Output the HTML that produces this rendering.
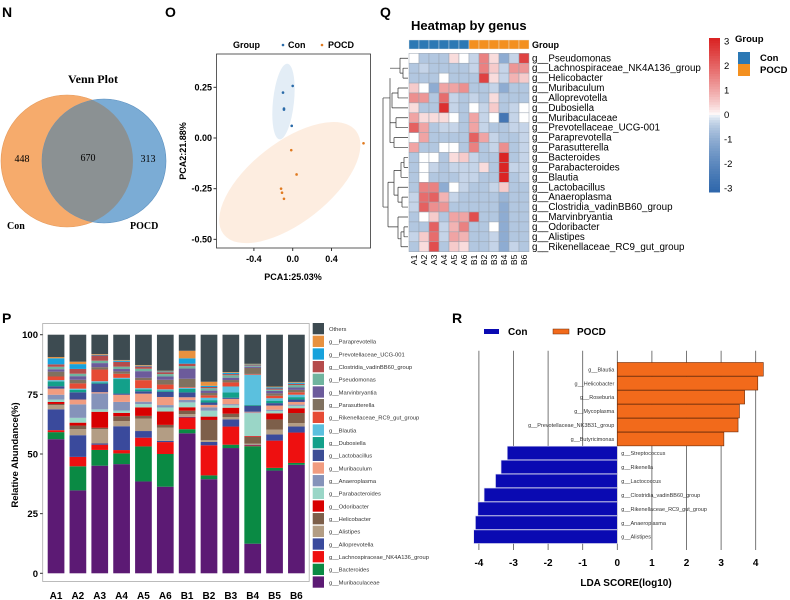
<!DOCTYPE html>
<html><head><meta charset="utf-8"><style>
body{margin:0;background:#fff;}
svg{display:block;font-family:"Liberation Sans",sans-serif;}
</style></head><body>
<svg id="fig" width="790" height="600" viewBox="0 0 790 600" xmlns="http://www.w3.org/2000/svg">
<defs><clipPath id="conclip"><circle cx="67" cy="161" r="66"/></clipPath></defs>
<g font-weight="bold" font-size="14">
<text x="2" y="17">N</text><text x="165" y="17">O</text><text x="380" y="17">Q</text><text x="2" y="323">P</text><text x="452" y="323">R</text>
</g>
<!-- Venn -->
<g font-family="Liberation Serif,serif">
<circle cx="67" cy="161" r="66" fill="#f6ab6c" stroke="#e49a5c" stroke-width="0.6"/>
<circle cx="104" cy="161" r="62" fill="#7bacd5" stroke="#5a8fbf" stroke-width="0.6"/>
<circle cx="104" cy="161" r="62" fill="#8b9193" clip-path="url(#conclip)"/>
<text x="93" y="83" text-anchor="middle" font-weight="bold" font-size="12">Venn Plot</text>
<text x="22" y="162" text-anchor="middle" font-size="10">448</text>
<text x="88" y="161" text-anchor="middle" font-size="10">670</text>
<text x="148" y="162" text-anchor="middle" font-size="10">313</text>
<text x="7" y="229" font-size="10" font-weight="bold">Con</text>
<text x="130" y="229" font-size="10" font-weight="bold">POCD</text>
</g>
<g id="pca"></g>
<g id="heat"></g>
<g id="bars"></g>
<g id="lda"></g>
</svg>
<script>
const NS="http://www.w3.org/2000/svg";
function mk(p,t,a,txt){const e=document.createElementNS(NS,t);for(const k in a)e.setAttribute(k,a[k]);if(txt!==undefined)e.textContent=txt;p.appendChild(e);return e;}

// ---------- PCA data ----------
const pcaConX=[0.00,-0.10,-0.09,-0.09,-0.01];
const pcaConY=[0.257,0.224,0.145,0.14,0.06];
const pcaPocdX=[0.73,-0.015,0.04,-0.12,-0.11,-0.09];
const pcaPocdY=[-0.026,-0.06,-0.18,-0.25,-0.27,-0.30];
const pcaXTicks=[-0.4,0.0,0.4];
const pcaYTicks=[0.25,0.00,-0.25,-0.50];

// ---------- Heatmap data ----------
const heatGenera=["Pseudomonas","Lachnospiraceae_NK4A136_group","Helicobacter","Muribaculum","Alloprevotella","Dubosiella","Muribaculaceae","Prevotellaceae_UCG-001","Paraprevotella","Parasutterella","Bacteroides","Parabacteroides","Blautia","Lactobacillus","Anaeroplasma","Clostridia_vadinBB60_group","Marvinbryantia","Odoribacter","Alistipes","Rikenellaceae_RC9_gut_group"];
const heatSamples=["A1","A2","A3","A4","A5","A6","B1","B2","B3","B4","B5","B6"];
const heatValues=[
[0,-0.5,-0.5,-0.5,0.3,0,-0.3,1.5,0.3,-1,-0.3,2.5],
[-0.5,-0.3,-0.5,-0.5,-0.5,-0.5,-0.3,1.5,0.5,-0.3,1.2,1.2],
[-0.5,-0.5,-0.5,0,-0.5,-0.5,-0.5,2.5,0.3,-0.3,0.8,0.5],
[0.5,0,-1,1,1,1.3,-0.5,-0.5,-0.3,-1,-0.5,-0.5],
[1.3,1.2,-0.5,1.8,-0.3,-0.5,-0.3,-0.5,0.3,-0.5,-0.5,-0.5],
[0.3,-0.5,-0.5,2.8,-0.3,-0.5,0,-0.3,0.5,-0.5,-0.3,0],
[1,0.3,0.3,0.3,0,-0.5,1,-0.3,0,-2.5,-0.3,0],
[2,1,-0.5,-0.3,-0.3,-0.5,1,-0.3,-0.5,-0.5,-0.3,-0.3],
[0,1,-0.5,-0.5,-0.5,-0.5,2,1,-0.3,-0.5,-0.5,-0.3],
[1,-0.5,-0.5,0,0,-0.5,1.5,-0.5,-0.3,1.3,-0.5,-0.3],
[-0.5,0,0,-0.5,0.3,0.5,-0.3,-0.5,-0.5,3,-0.5,-0.3],
[-0.5,0,-0.3,-0.5,-0.3,-0.3,-0.3,0.3,-0.5,3,-0.3,-0.3],
[-0.5,0,-0.5,-0.5,-0.5,-0.3,-0.3,-0.5,-0.5,3,-0.5,-0.3],
[-0.5,1.5,1.5,-1,0,-0.3,-0.5,-0.5,-0.3,0.5,-0.5,-0.5],
[-0.3,1.8,2,0.8,-0.3,-0.5,-0.5,-0.5,-0.5,-0.8,-0.5,-0.5],
[-0.3,2,1.3,1.2,-0.5,-0.5,-0.5,-0.5,-0.5,-1,-0.5,-0.5],
[-0.5,0,0.5,-0.5,1,1,2.3,-0.5,-0.5,-1,-0.5,-0.5],
[-0.5,-0.5,2,-0.3,0.8,1.5,-0.5,-0.5,0,-1,-0.5,-0.5],
[-0.3,0.5,1.8,-0.3,1,0.8,-0.5,-0.5,-0.3,-1,-0.5,-0.5],
[-0.5,0.3,2.3,-0.5,0.5,0.3,-0.5,-0.5,-0.3,-1,-0.3,-0.5]];
const heatScaleTicks=[3,2,1,0,-1,-2,-3];

// ---------- Stacked bar data ----------
const barSamples=["A1","A2","A3","A4","A5","A6","B1","B2","B3","B4","B5","B6"];
const barTaxa=["g__Muribaculaceae","g__Bacteroides","g__Lachnospiraceae_NK4A136_group","g__Alloprevotella","g__Alistipes","g__Helicobacter","g__Odoribacter","g__Parabacteroides","g__Anaeroplasma","g__Muribaculum","g__Lactobacillus","g__Dubosiella","g__Blautia","g__Rikenellaceae_RC9_gut_group","g__Parasutterella","g__Marvinbryantia","g__Pseudomonas","g__Clostridia_vadinBB60_group","g__Prevotellaceae_UCG-001","g__Paraprevotella","Others"];
const barColors=["#5c1a74","#0a8a44","#ee1010","#3a4a9c","#b39d84","#7d5f4a","#d80000","#9ad6c7","#8593ba","#f19c80","#3c4d95","#13a08a","#5bc0de","#e64b35","#80715f","#6c5b9b","#70b49f","#b54c4c","#17a2dc","#e8913f","#3d4b51"];
const barValues=[ // one row per sample, columns follow barTaxa
[55.2,2.9,0.8,8.6,1.7,0.5,0.8,1,2,2.5,1,2,0.5,1.5,2,1,1,1,2.5,0.5,9.2],
[34.4,10,3.9,9,2.5,1.5,1.2,2,5.6,2,3,1,0.5,2.2,1.5,1.5,1,2,2,1,11.2],
[45.1,6.6,2.2,0.5,6,0.6,6.7,1,6.7,0.5,3.6,0.5,0.5,4.9,1,1.7,1,2.2,0.3,0.3,8.1],
[45.8,4.5,1.4,10,2.2,2,1.4,1,3.6,3,0.5,6.1,0.5,1.7,1,1,1,2,0.5,0.3,10.6],
[38.8,14.8,3.7,2.8,5.3,1.1,3.6,1.4,1,3.4,1,0.8,0.5,3.4,1,2.8,1,1,0.3,0.3,12.8],
[36.3,13.7,5,0.5,5.6,1.1,5.6,1.7,1,3.4,2.2,0.5,0.5,2,2,1.4,1,0.8,0.3,0.3,15.1],
[57.5,1.7,4.8,0.3,1.1,1.4,1.4,2,1,1.1,2,1.4,0.5,0.3,3.4,4.2,1,1,2.2,3.1,6.6],
[39.4,1.6,12.6,1.4,0.8,8.4,1.4,2.5,1.4,1,1,1,1,1,1,1,1,0.5,0.5,1.7,19.7],
[52.5,1.4,7.6,3,1,1.4,2.5,1,0.5,2.2,0.5,2.2,2.5,1.7,1,1,1,0.5,0.5,0.3,15.7],
[12.3,40.5,0.3,0.3,0.5,2.8,0.3,9.5,0.3,0.3,2.5,0.3,12.6,0.3,2.5,0.5,0.3,0.3,0.3,0.3,12.1],
[42.2,1.1,11.2,2.5,2,4.2,2.5,1,0.5,1.7,1,1,1,1,1,1,0.5,0.5,0.5,0.3,21.3],
[45,0.8,12.6,2.5,1.4,4.2,2,1,0.5,1.1,1,1,1,1,1,1,1,0.5,0.5,0.3,19.6]];
const barYTicks=[0,25,50,75,100];

// ---------- LDA data ----------
const ldaGenera=["g__Blautia","g__Helicobacter","g__Roseburia","g__Mycoplasma","g__Prevotellaceae_NK3B31_group","g__Butyricimonas","g__Streptococcus","g__Rikenella","g__Lactococcus","g__Clostridia_vadinBB60_group","g__Rikenellaceae_RC9_gut_group","g__Anaeroplasma","g__Alistipes"];
const ldaScores=[4.22,4.06,3.68,3.53,3.49,3.08,-3.18,-3.36,-3.52,-3.85,-4.03,-4.10,-4.15];
const ldaTicks=[-4,-3,-2,-1,0,1,2,3,4];

// ===== PCA =====
(function(){
const g=document.getElementById('pca');
const px=v=>292.7+v*97, py=v=>138-v*202.7;
let r=mk(g,'rect',{x:216.5,y:54,width:154,height:194,fill:'#fff',stroke:'#333','stroke-width':0.8});

let e1=mk(g,'ellipse',{cx:px(-0.095),cy:py(0.18),rx:10.5,ry:38,fill:'#dce8f4',opacity:0.8,transform:`rotate(6 ${px(-0.095)} ${py(0.18)})`});

let e2=mk(g,'ellipse',{cx:px(-0.03),cy:py(-0.22),rx:84,ry:40,fill:'#fde9d8',opacity:0.8,transform:`rotate(-38 ${px(-0.03)} ${py(-0.22)})`});

pcaConX.forEach((x,i)=>{const c=mk(g,'circle',{cx:px(x),cy:py(pcaConY[i]),r:1.3,fill:'#2a6aa8'});
});
pcaPocdX.forEach((x,i)=>{const c=mk(g,'circle',{cx:px(x),cy:py(pcaPocdY[i]),r:1.3,fill:'#e07a20'});
});
pcaXTicks.forEach(t=>{mk(g,'line',{x1:px(t),x2:px(t),y1:248,y2:251,stroke:'#333'});
const tx=mk(g,'text',{x:px(t),y:262,'text-anchor':'middle','font-size':9,'font-weight':'bold'},t.toFixed(1));
});
pcaYTicks.forEach(t=>{mk(g,'line',{x1:213.5,x2:216.5,y1:py(t),y2:py(t),stroke:'#333'});
const tx=mk(g,'text',{x:212,y:py(t)+3,'text-anchor':'end','font-size':9,'font-weight':'bold'},t.toFixed(2));
});
let t=mk(g,'text',{x:293,y:280,'text-anchor':'middle','font-size':9,'font-weight':'bold'},'PCA1:25.03%');

t=mk(g,'text',{x:0,y:0,'text-anchor':'middle','font-size':9,'font-weight':'bold',transform:'translate(186,151) rotate(-90)'},'PCA2:21.88%');

t=mk(g,'text',{x:233,y:48,'font-size':9,'font-weight':'bold'},'Group');

mk(g,'circle',{cx:283,cy:45,r:1.3,fill:'#2a6aa8'});
t=mk(g,'text',{x:288,y:48,'font-size':9,'font-weight':'bold'},'Con');

mk(g,'circle',{cx:322,cy:45,r:1.3,fill:'#e07a20'});
t=mk(g,'text',{x:328,y:48,'font-size':9,'font-weight':'bold'},'POCD');

})();

// ===== Heatmap =====
(function(){
const g=document.getElementById('heat');
const x0=409,cw=10,y0=53.3,ch=9.92;
function col(v){const f=Math.min(1,Math.abs(v)/3);
 if(v>=0){const a=[255,255,255],b=[218,36,36];return `rgb(${a.map((c,i)=>Math.round(c+(b[i]-c)*Math.pow(f,0.8))).join(',')})`;}
 const a=[255,255,255],b=[48,104,172];return `rgb(${a.map((c,i)=>Math.round(c+(b[i]-c)*Math.pow(f,0.55))).join(',')})`;}
let t=mk(g,'text',{x:411,y:30,'font-size':13,'font-weight':'bold'},'Heatmap by genus');

heatSamples.forEach((s,j)=>{const r=mk(g,'rect',{x:x0+j*cw,y:40,width:cw,height:9,fill:s[0]==='A'?'#2b78b4':'#f39020',stroke:'#e8e8e8','stroke-width':0.4});

const tx=mk(g,'text',{x:0,y:0,'font-size':8.5,transform:`translate(${x0+j*cw+8},${y0+20*ch+3}) rotate(-90)`,'text-anchor':'end'},s);
});
t=mk(g,'text',{x:532,y:48,'font-size':9,'font-weight':'bold'},'Group');

heatValues.forEach((row,i)=>{row.forEach((v,j)=>{const r=mk(g,'rect',{x:x0+j*cw,y:y0+i*ch,width:cw,height:ch,fill:col(v),stroke:'#9aa4b0','stroke-width':0.5});
});
const tx=mk(g,'text',{x:532,y:y0+i*ch+8,'font-size':9.8},'g__'+heatGenera[i]);
});
const yc=i=>y0+i*ch+ch/2;
const dp=mk(g,'path',{fill:'none',stroke:'#333','stroke-width':0.7,d:
`M408 ${yc(0)}H400M408 ${yc(1)}H403M408 ${yc(2)}H403M403 ${yc(1)}V${yc(2)}M403 ${(yc(1)+yc(2))/2}H400M400 ${yc(0)}V${(yc(1)+yc(2))/2}M400 ${yc(1)}H390`+
`M408 ${yc(3)}H398M408 ${yc(4)}H398M398 ${yc(3)}V${yc(4)}M398 ${yc(3.5)}H392M408 ${yc(5)}H392M392 ${yc(3.5)}V${yc(5)}`+
`M408 ${yc(6)}H396M408 ${yc(7)}H396M396 ${yc(6)}V${yc(7)}M408 ${yc(8)}H394M408 ${yc(9)}H394M394 ${yc(8)}V${yc(9)}M396 ${yc(6.5)}H390M394 ${yc(8.5)}H390M390 ${yc(6.5)}V${yc(8.5)}M390 ${yc(4)}V${yc(7.5)}M390 ${yc(2)}V${yc(5)}M390 ${yc(4)}H384`+
`M408 ${yc(10)}H404M408 ${yc(11)}H404M404 ${yc(10)}V${yc(11)}M404 ${yc(10.5)}H401M408 ${yc(12)}H401M401 ${yc(10.5)}V${yc(12)}M401 ${yc(11.3)}H394`+
`M408 ${yc(13)}H398M408 ${yc(14)}H402M408 ${yc(15)}H402M402 ${yc(14)}V${yc(15)}M402 ${yc(14.5)}H398M398 ${yc(13)}V${yc(14.5)}M398 ${yc(13.8)}H394M394 ${yc(11.3)}V${yc(13.8)}M394 ${yc(12.5)}H388`+
`M408 ${yc(16)}H398M408 ${yc(17)}H404M408 ${yc(18)}H404M404 ${yc(17)}V${yc(18)}M404 ${yc(17.5)}H401M408 ${yc(19)}H401M401 ${yc(17.5)}V${yc(19)}M401 ${yc(18.2)}H398M398 ${yc(16)}V${yc(18.2)}M398 ${yc(17)}H388M388 ${yc(12.5)}V${yc(17)}M388 ${yc(15)}H383M383 ${yc(4)}V${yc(15)}M384 ${yc(4)}H383`}); 

// colour scale
const cbTop=38,cbH=154,cbX=709;
for(let k=0;k<60;k++){const v=3-6*k/59;mk(g,'rect',{x:cbX,y:cbTop+k*cbH/60,width:11,height:cbH/60+0.5,fill:col(v)});}
heatScaleTicks.forEach(v=>{const y=41+(3-v)/6*147;const tx=mk(g,'text',{x:724,y:y+3.5,'font-size':9.5},String(v));
});
t=mk(g,'text',{x:735,y:42,'font-size':9.5,'font-weight':'bold'},'Group');

mk(g,'rect',{x:738,y:52,width:12,height:12,fill:'#2b78b4'});
t=mk(g,'text',{x:760,y:61,'font-size':9.5,'font-weight':'bold'},'Con');

mk(g,'rect',{x:738,y:64,width:12,height:12,fill:'#f39020'});
t=mk(g,'text',{x:760,y:73,'font-size':9.5,'font-weight':'bold'},'POCD');

})();

// ===== Stacked bars =====
(function(){
const g=document.getElementById('bars');
const yB=573.3,yT=334.7,py=v=>yB-(yB-yT)*v/100;
let r=mk(g,'rect',{x:42.7,y:323.5,width:266.5,height:258,fill:'#fff',stroke:'#aaa','stroke-width':0.8});

barValues.forEach((row,i)=>{const tot=row.reduce((a,b)=>a+b,0);let acc=0;const x=47.7+i*21.85;
row.forEach((v,k)=>{const h=v/tot*100;const b=mk(g,'rect',{x:x,y:py(acc+h),width:16.7,height:(yB-yT)*h/100,fill:barColors[k]});
acc+=h;});
const tx=mk(g,'text',{x:x+8.3,y:599,'text-anchor':'middle','font-size':10,'font-weight':'bold'},barSamples[i]);
});
barYTicks.forEach(t=>{mk(g,'line',{x1:40,x2:42.7,y1:py(t),y2:py(t),stroke:'#333'});
const tx=mk(g,'text',{x:38,y:py(t)+3.5,'text-anchor':'end','font-size':9.5,'font-weight':'bold'},String(t));
});
let t=mk(g,'text',{x:0,y:0,'text-anchor':'middle','font-size':9.5,'font-weight':'bold',transform:'translate(18,455) rotate(-90)'},'Relative Abundance(%)');

for(let k=barTaxa.length-1,n=0;k>=0;k--,n++){const y=323+n*12.67;
const s=mk(g,'rect',{x:312.7,y:y,width:11.3,height:11.3,fill:barColors[k]});

const tx=mk(g,'text',{x:329,y:y+8,'font-size':5.8,fill:'#333'},barTaxa[k]);
}
})();

// ===== LDA =====
(function(){
const g=document.getElementById('lda');
const px=v=>617.3+v*34.6, yc=i=>369.3+i*13.95;
ldaTicks.forEach(t=>{const l=mk(g,'line',{x1:px(t),x2:px(t),y1:350.7,y2:550,stroke:'#555','stroke-width':0.8});

const tx=mk(g,'text',{x:px(t),y:566,'text-anchor':'middle','font-size':10,'font-weight':'bold'},String(t));
});
ldaScores.forEach((v,i)=>{const pos=v>0;const x=Math.min(px(0),px(v));
const b=mk(g,'rect',{x:x,y:yc(i)-6.8,width:Math.abs(px(v)-px(0)),height:13.6,fill:pos?'#f26a1b':'#0a0ab2',stroke:pos?'#6a2a08':'#e0e0f0','stroke-width':0.6});

const tx=mk(g,'text',{x:pos?px(0)-3:px(0)+4,y:yc(i)+2,'text-anchor':pos?'end':'start','font-size':5.5,fill:'#333'},ldaGenera[i]);
});
let t=mk(g,'text',{x:626,y:586,'text-anchor':'middle','font-size':10,'font-weight':'bold'},'LDA SCORE(log10)');

mk(g,'rect',{x:484,y:329,width:15,height:5,fill:'#0a0ab2'});
t=mk(g,'text',{x:508,y:335,'font-size':10,'font-weight':'bold'},'Con');

mk(g,'rect',{x:553,y:329,width:16,height:5,fill:'#f26a1b',stroke:'#6a2a08','stroke-width':0.5});
t=mk(g,'text',{x:577,y:335,'font-size':10,'font-weight':'bold'},'POCD');

})();
</script>
</body></html>
